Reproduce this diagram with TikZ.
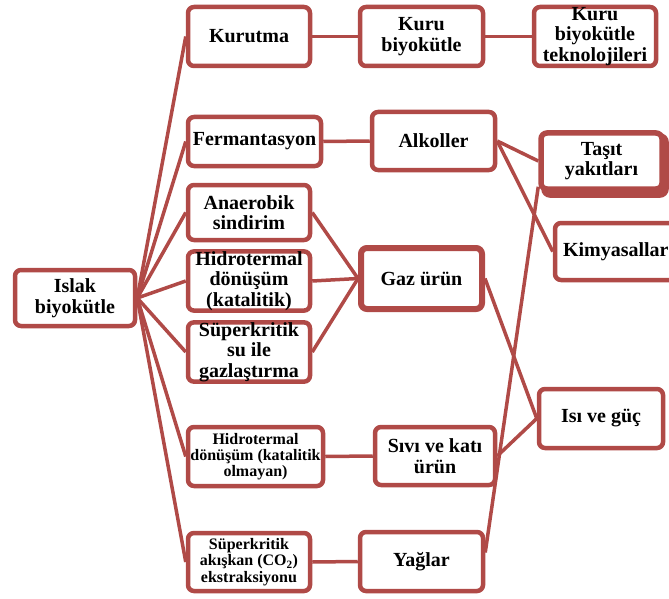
\documentclass[tikz,border=0pt]{standalone}
\usepackage{fontspec}
\setmainfont{Liberation Serif}
\definecolor{brn}{RGB}{176,74,71}
\begin{document}
\begin{tikzpicture}[x=1pt,y=-1pt,
  box/.style={draw=brn, line width=4.5pt, fill=white, rounded corners=6pt,
    align=center, inner sep=0pt, font=\bfseries\fontsize{20}{20.5}\selectfont},
  smallbox/.style={box, font=\bfseries\fontsize{16}{16.3}\selectfont},
  link/.style={draw=brn, line width=3.5pt}]
\useasboundingbox (0,0) rectangle (669,599);
% shadow of Tasit yakitlari
\draw[brn, fill=brn, line width=5.5pt, rounded corners=6pt] (544,136) rectangle (666,195);
% nodes
\node[box, minimum width=120, minimum height=56] (islak) at (75,298) {Islak\\biyokütle};
\node[box, minimum width=122, minimum height=59] (kurutma) at (249,36.5) {Kurutma};
\node[box, minimum width=133, minimum height=49] (ferm) at (254.5,141.5) {Fermantasyon};
\node[box, minimum width=122, minimum height=55] (anaer) at (249,212.5) {Anaerobik\\sindirim};
\node[box, minimum width=122, minimum height=56] (hidk) at (249,281) {Hidrotermal\\dönüşüm\\(katalitik)};
\node[box, minimum width=122, minimum height=56] (superk) at (249,352) {Süperkritik\\su ile\\gazlaştırma};
\node[smallbox, minimum width=135, minimum height=59] (hidko) at (255.5,456.5) {Hidrotermal\\dönüşüm (katalitik\\olmayan)};
\node[smallbox, minimum width=122, minimum height=58] (superka) at (249,562) {Süperkritik\\akışkan (CO\textsubscript{2})\\ekstraksiyonu};
\node[box, minimum width=123, minimum height=59] (kuru) at (421.5,36.5) {Kuru\\biyokütle};
\node[box, minimum width=122, minimum height=59] (kurut) at (595,36.5) {Kuru\\biyokütle\\teknolojileri};
\node[box, minimum width=123, minimum height=58] (alk) at (433.5,141) {Alkoller};
\node[box, line width=5.5pt, minimum width=121, minimum height=56] (tasit) at (601.5,161) {Taşıt\\yakıtları};
\node[box, minimum width=133, minimum height=57, text width=133, align=left] (kimya) at (621.5,251.5) {\hspace*{8pt}Kimyasallar};
\node[box, line width=6pt, minimum width=121, minimum height=61] (gaz) at (421.5,278.5) {Gaz ürün};
\node[box, minimum width=124, minimum height=59] (isi) at (601,418.5) {Isı ve güç};
\node[box, minimum width=120, minimum height=58] (sivi) at (435,456) {Sıvı ve katı\\ürün};
\node[box, minimum width=123, minimum height=59] (yag) at (421.5,561.5) {Yağlar};
% connectors
\foreach \t in {kurutma,ferm,anaer,hidk,superk,hidko,superka}
  \draw[link] (islak.east) -- (\t.west);
\draw[link] (kurutma.east) -- (kuru.west);
\draw[link] (kuru.east) -- (kurut.west);
\draw[link] (ferm.east) -- (alk.west);
\draw[link] (alk.east) -- (tasit.west);
\draw[link] (alk.east) -- (kimya.west);
\foreach \s in {anaer,hidk,superk}
  \draw[link] (\s.east) -- (gaz.west);
\draw[link] (gaz.east) -- (isi.west);
\draw[link] (hidko.east) -- (sivi.west);
\draw[link] (sivi.east) -- (isi.west);
\draw[link] (superka.east) -- (yag.west);
\coordinate (tasitin) at ([yshift=5pt]tasit.south west);
\draw[link] ([yshift=9pt]yag.east) -- (tasitin);
\end{tikzpicture}
\end{document}
